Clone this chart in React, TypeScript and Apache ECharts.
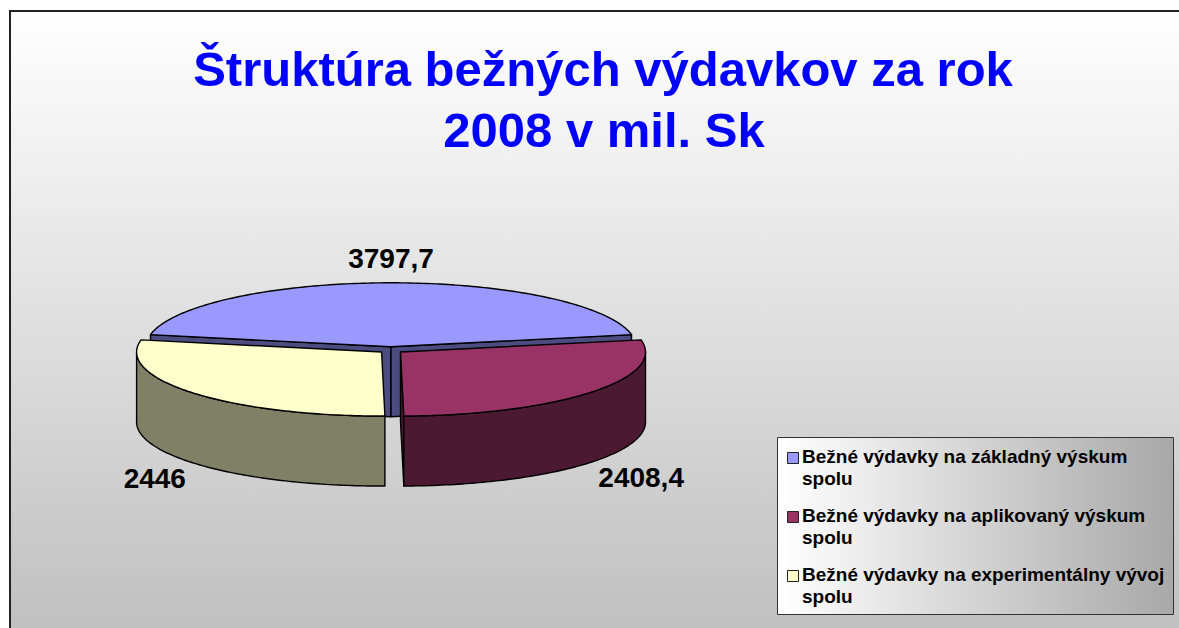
import React, { useEffect, useRef } from 'react';
import * as echarts from 'echarts';

// ---- data ----
const categories = [
  'Bežné výdavky na základný výskum spolu',
  'Bežné výdavky na aplikovaný výskum spolu',
  'Bežné výdavky na experimentálny vývoj spolu',
];
const values = [3797.7, 2408.4, 2446];
const valueLabels = ['3797,7', '2408,4', '2446'];
const topColors = ['#9999FF', '#993366', '#FFFFCC'];
const sideColors = ['#4C4C80', '#4C1933', '#808066'];
const titleLines = ['Štruktúra bežných výdavkov za rok', '2008 v mil. Sk'];

// ---- layout ----
const PIE = { cx: 391, cy: 350, rx: 245, ry: 64, depth: 70, explode: 0.05, startAngle: 281 };
const FONT = '"Liberation Sans", Arial, Helvetica, sans-serif';

const rad = (d: number) => (d * Math.PI) / 180;

function renderSlice(params: any, api: any) {
  const i = params.dataIndex;
  const total = values.reduce((s, v) => s + v, 0);
  let cum = 0;
  for (let k = 0; k < i; k++) cum += values[k];
  const v = api.value(0);
  const a0 = PIE.startAngle + (cum / total) * 360;
  const a1 = a0 + (v / total) * 360;
  const mid = (a0 + a1) / 2;
  const cx = PIE.cx + PIE.explode * PIE.rx * Math.sin(rad(mid));
  const cy = PIE.cy - PIE.explode * PIE.ry * Math.cos(rad(mid));
  const D = PIE.depth;
  const pt = (a: number, dz = 0) => [cx + PIE.rx * Math.sin(rad(a)), cy - PIE.ry * Math.cos(rad(a)) + dz];
  const arc = (s: number, e: number, dz: number) => {
    const n = Math.max(2, Math.ceil(Math.abs(e - s)));
    const pts: number[][] = [];
    for (let j = 0; j <= n; j++) pts.push(pt(s + ((e - s) * j) / n, dz));
    return pts;
  };
  const line = { stroke: '#000', lineWidth: 1.4, lineJoin: 'round' };
  const side = sideColors[i];
  const children: any[] = [];
  if (Math.sin(rad(a0)) < 0) {
    children.push({ type: 'polygon', shape: { points: [[cx, cy], pt(a0), pt(a0, D), [cx, cy + D]] }, style: { fill: side, ...line } });
  }
  if (Math.sin(rad(a1)) > 0) {
    children.push({ type: 'polygon', shape: { points: [[cx, cy], pt(a1), pt(a1, D), [cx, cy + D]] }, style: { fill: side, ...line } });
  }
  for (let k = -1; k <= 2; k++) {
    const s = Math.max(a0, 90 + 360 * k);
    const e = Math.min(a1, 270 + 360 * k);
    if (e > s) {
      children.push({ type: 'polygon', shape: { points: [...arc(s, e, 0), ...arc(e, s, D)] }, style: { fill: side, ...line } });
    }
  }
  children.push({ type: 'polygon', shape: { points: [[cx, cy], ...arc(a0, a1, 0)] }, style: { fill: topColors[i], ...line } });

  const sx = Math.sin(rad(mid));
  const cyMid = Math.cos(rad(mid));
  const lx = cx + (PIE.rx + 10) * sx;
  const ly = cy - (PIE.ry + 24) * cyMid + (cyMid < 0 ? D : 0);
  children.push({
    type: 'text',
    style: {
      text: valueLabels[i],
      x: lx,
      y: ly,
      fill: '#000',
      fontFamily: FONT,
      fontWeight: 'bold',
      fontSize: 28,
      align: sx > 0.3 ? 'left' : sx < -0.3 ? 'right' : 'center',
      verticalAlign: 'middle',
    },
  });
  return { type: 'group', children };
}

function buildOption() {
  const graphic: any[] = [
    {
      type: 'rect',
      z: -10,
      shape: { x: 10, y: 11, width: 1250, height: 700 },
      style: {
        fill: new echarts.graphic.LinearGradient(0, 0, 0, 1, [
          { offset: 0, color: '#ffffff' },
          { offset: 0.88, color: '#c0c0c0' },
          { offset: 1, color: '#bcbcbc' },
        ]),
        stroke: '#222',
        lineWidth: 2,
      },
      silent: true,
    },
    {
      type: 'text',
      z: 10,
      style: { text: titleLines[0], x: 603, y: 69, fill: '#0000FF', fontFamily: FONT, fontWeight: 'bold', fontSize: 49, align: 'center', verticalAlign: 'middle' },
    },
    {
      type: 'text',
      z: 10,
      style: { text: titleLines[1], x: 604, y: 130, fill: '#0000FF', fontFamily: FONT, fontWeight: 'bold', fontSize: 49, align: 'center', verticalAlign: 'middle' },
    },
    {
      type: 'rect',
      z: 10,
      shape: { x: 777.5, y: 437.5, width: 396, height: 177 },
      style: {
        fill: new echarts.graphic.LinearGradient(0, 0, 1, 0, [
          { offset: 0, color: '#ffffff' },
          { offset: 1, color: '#a8a8a8' },
        ]),
        stroke: '#333',
        lineWidth: 1,
      },
    },
  ];
  categories.forEach((name, i) => {
    const y1 = 456 + i * 59;
    graphic.push({
      type: 'rect',
      z: 11,
      shape: { x: 787.5, y: y1 - 3.5, width: 11, height: 11 },
      style: { fill: topColors[i], stroke: '#222', lineWidth: 1 },
    });
    graphic.push({
      type: 'text',
      z: 11,
      style: {
        text: name.replace(/ spolu$/, '\nspolu'),
        x: 802,
        y: y1 + 11,
        fill: '#000',
        fontFamily: FONT,
        fontWeight: 'bold',
        fontSize: 19,
        lineHeight: 22,
        align: 'left',
        verticalAlign: 'middle',
      },
    });
  });

  return {
    animation: false,
    backgroundColor: '#ffffff',
    graphic,
    series: [
      {
        type: 'custom',
        coordinateSystem: 'none',
        renderItem: renderSlice,
        data: values.map((v) => [v]),
        silent: true,
        z: 2,
      },
    ],
  };
}

export default function App() {
  const ref = useRef<HTMLDivElement>(null);
  useEffect(() => {
    if (!ref.current) return;
    const chart = echarts.init(ref.current, undefined, { renderer: 'svg' });
    chart.setOption(buildOption() as any);
    return () => chart.dispose();
  }, []);
  return (
    <div
      ref={ref}
      style={{ position: 'absolute', left: 0, top: 0, width: 1179, height: 628, overflow: 'hidden' }}
    />
  );
}
